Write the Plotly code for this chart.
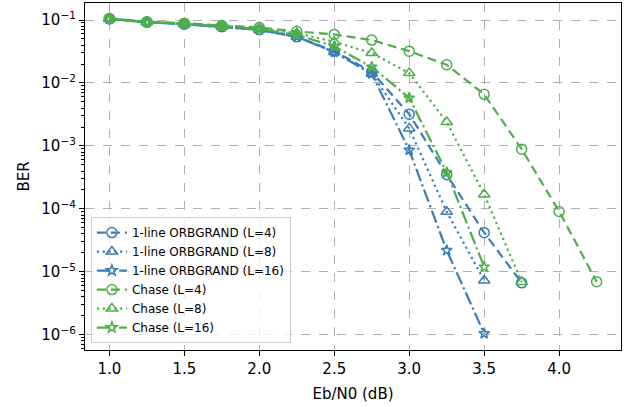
import plotly.graph_objects as go

snr_orb = [1.0, 1.25, 1.5, 1.75, 2.0, 2.25, 2.5, 2.75, 3.0, 3.25, 3.5, 3.75]
orb_l4 = [0.104, 0.092, 0.086, 0.078, 0.070, 0.054, 0.032, 0.015, 3.2e-3, 3.5e-4, 4.2e-5, 6.7e-6]
snr_orb8 = [1.0, 1.25, 1.5, 1.75, 2.0, 2.25, 2.5, 2.75, 3.0, 3.25, 3.5]
orb_l8 = [0.104, 0.092, 0.086, 0.078, 0.070, 0.054, 0.031, 0.014, 1.9e-3, 9.0e-5, 7.3e-6]
snr_orb16 = [1.0, 1.25, 1.5, 1.75, 2.0, 2.25, 2.5, 2.75, 3.0, 3.25, 3.5]
orb_l16 = [0.104, 0.092, 0.086, 0.078, 0.070, 0.054, 0.031, 0.014, 8.6e-4, 2.2e-5, 1.05e-6]

snr_ch4 = [1.0, 1.25, 1.5, 1.75, 2.0, 2.25, 2.5, 2.75, 3.0, 3.25, 3.5, 3.75, 4.0, 4.25]
ch_l4 = [0.106, 0.094, 0.089, 0.082, 0.076, 0.066, 0.059, 0.048, 0.032, 0.0195, 6.6e-3, 8.9e-4, 9.1e-5, 7.0e-6]
snr_ch8 = [1.0, 1.25, 1.5, 1.75, 2.0, 2.25, 2.5, 2.75, 3.0, 3.25, 3.5, 3.75]
ch_l8 = [0.106, 0.094, 0.088, 0.081, 0.074, 0.062, 0.045, 0.030, 0.0144, 2.4e-3, 1.7e-4, 6.9e-6]
snr_ch16 = [1.0, 1.25, 1.5, 1.75, 2.0, 2.25, 2.5, 2.75, 3.0, 3.25, 3.5]
ch_l16 = [0.105, 0.093, 0.087, 0.080, 0.072, 0.058, 0.038, 0.018, 5.8e-3, 3.8e-4, 1.2e-5]

names = ["1-line ORBGRAND (L=4)", "1-line ORBGRAND (L=8)", "1-line ORBGRAND (L=16)",
         "Chase (L=4)", "Chase (L=8)", "Chase (L=16)"]

xticks = [1.0, 1.5, 2.0, 2.5, 3.0, 3.5, 4.0]
yticks = [1e-6, 1e-5, 1e-4, 1e-3, 1e-2, 1e-1]
yticktext = ["10<sup>\u2212%d</sup>" % k for k in [6, 5, 4, 3, 2, 1]]
decades = [1e-7, 1e-6, 1e-5, 1e-4, 1e-3, 1e-2, 1e-1]
mantissas = [2, 3, 4, 5, 6, 7, 8, 9]
yminor = [m * d for d in decades for m in mantissas]

BLUE = "#377eb8"
GREEN = "#4daf4a"
DASH = "9px,5px"
DOT = "2.2px,3.6px"
DASHDOT = "13px,3.5px,2.2px,3.5px"

series = [
    (snr_orb, orb_l4, names[0], BLUE, DASH, "circle-open", 10),
    (snr_orb8, orb_l8, names[1], BLUE, DOT, "triangle-up-open", 10),
    (snr_orb16, orb_l16, names[2], BLUE, DASHDOT, "star-open", 8),
    (snr_ch4, ch_l4, names[3], GREEN, DASH, "circle-open", 10),
    (snr_ch8, ch_l8, names[4], GREEN, DOT, "triangle-up-open", 10),
    (snr_ch16, ch_l16, names[5], GREEN, DASHDOT, "star-open", 8),
]

fig = go.Figure()
# invisible helper trace so the minor-tick overlay axis is drawn
fig.add_trace(go.Scatter(
    x=snr_orb, y=orb_l4, yaxis="y2", mode="markers",
    marker=dict(opacity=0), showlegend=False, hoverinfo="skip",
))
for x, y, name, color, dash, sym, msize in series:
    fig.add_trace(go.Scatter(
        x=x, y=y, name=name, mode="lines+markers",
        line=dict(color=color, width=2.2, dash=dash),
        marker=dict(symbol=sym, size=msize, color=color, line=dict(width=1.5, color=color)),
    ))

fig.update_layout(
    width=628, height=407,
    margin=dict(l=85, r=7, t=3, b=57),
    paper_bgcolor="white", plot_bgcolor="white",
    font=dict(family="DejaVu Sans", size=15, color="black"),
    showlegend=True,
    legend=dict(
        x=0.011, y=0.02, xanchor="left", yanchor="bottom",
        bgcolor="rgba(255,255,255,0.8)", bordercolor="#cccccc", borderwidth=1,
        font=dict(size=12), itemwidth=30, tracegroupgap=0,
    ),
    xaxis=dict(
        range=[0.8375, 4.4125], tickvals=xticks, tickformat=".1f",
        showline=True, linecolor="black", linewidth=1.2, mirror=True,
        ticks="outside", ticklen=5, tickcolor="black",
        showgrid=True, gridcolor="#b0b0b0", griddash="dash", gridwidth=1,
        zeroline=False, automargin=False,
        title=dict(text="Eb/N0 (dB)", font=dict(size=15), standoff=11),
    ),
    yaxis=dict(
        type="log", range=[-6.24, -0.73], tickvals=yticks, ticktext=yticktext,
        showline=True, linecolor="black", linewidth=1.2, mirror=True,
        ticks="outside", ticklen=5, tickcolor="black",
        showgrid=True, gridcolor="#b0b0b0", griddash="dash", gridwidth=1,
        zeroline=False, automargin=False,
        title=dict(text="BER", font=dict(size=15), standoff=8),
    ),
    yaxis2=dict(
        type="log", range=[-6.24, -0.73], overlaying="y", anchor="x", side="left",
        tickmode="array", tickvals=yminor, showticklabels=False,
        ticks="outside", ticklen=3, tickcolor="black", tickwidth=1,
        showgrid=False, showline=False, zeroline=False, automargin=False,
    ),
)

fig.write_html(
    "out.html",
    config={"displayModeBar": False},
    post_script="document.body.style.margin='0';document.body.style.padding='0';",
)
